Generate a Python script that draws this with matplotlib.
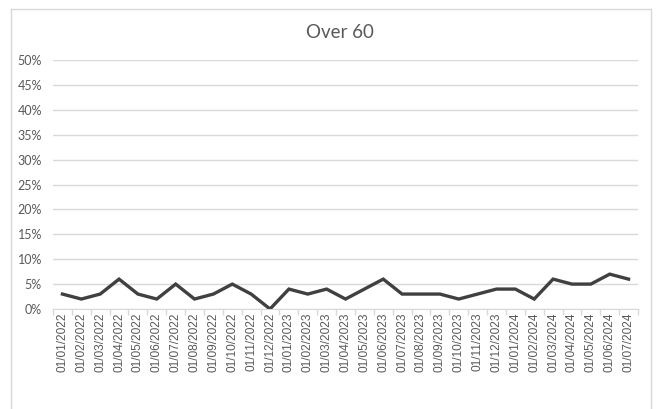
import matplotlib.pyplot as plt
from matplotlib.lines import Line2D
from matplotlib.ticker import PercentFormatter, FixedLocator, MultipleLocator

# DATA
dates = ['01/01/2022', '01/02/2022', '01/03/2022', '01/04/2022', '01/05/2022', '01/06/2022',
         '01/07/2022', '01/08/2022', '01/09/2022', '01/10/2022', '01/11/2022', '01/12/2022',
         '01/01/2023', '01/02/2023', '01/03/2023', '01/04/2023', '01/05/2023', '01/06/2023',
         '01/07/2023', '01/08/2023', '01/09/2023', '01/10/2023', '01/11/2023', '01/12/2023',
         '01/01/2024', '01/02/2024', '01/03/2024', '01/04/2024', '01/05/2024', '01/06/2024',
         '01/07/2024']
over_60 = [3, 2, 3, 6, 3, 2, 5, 2, 3, 5, 3, 0,
           4, 3, 4, 2, 4, 6, 3, 3, 3, 2, 3, 4,
           4, 2, 6, 5, 5, 7, 6]
title = 'Over 60'

GRID = '#d9d9d9'
TEXT = '#595959'

W, H = 658, 409
fig = plt.figure(figsize=(W / 100, H / 100), dpi=100)
ax = fig.add_axes([53 / W, 1 - 309 / H, (638 - 53) / W, (309 - 60) / H])

x = list(range(len(dates)))
ax.plot(x, over_60, color='#404040', lw=2.4, solid_joinstyle='miter', zorder=3)

ax.set_xlim(-0.5, len(dates) - 0.5)
ax.set_ylim(0, 50)
ax.yaxis.set_major_locator(MultipleLocator(5))
ax.yaxis.set_major_formatter(PercentFormatter(decimals=0))
ax.grid(axis='y', color=GRID, lw=1)
ax.set_axisbelow(True)

# category labels in the middle, tick marks on the boundaries
ax.set_xticks(x)
ax.set_xticklabels(dates, rotation=90, fontsize=8.6, color=TEXT, family='Liberation Sans')
ax.tick_params(axis='x', which='major', length=0, pad=2.5)
ax.xaxis.set_minor_locator(FixedLocator([i - 0.5 for i in range(len(dates) + 1)]))
ax.tick_params(axis='x', which='minor', length=4, color=GRID, width=1)
ax.tick_params(axis='y', length=0, pad=8, labelsize=9, labelcolor=TEXT)
for lab in ax.get_yticklabels():
    lab.set_family('Lato')

for s in ['left', 'right', 'top']:
    ax.spines[s].set_visible(False)
ax.spines['bottom'].set_color(GRID)

fig.text(340 / W, 1 - 32 / H, title, ha='center', va='center', fontsize=13.5,
         color=TEXT, family='Lato')

# chart frame
fc = '#d9d9d9'
fig.add_artist(Line2D([11 / W, 11 / W], [0, 1 - 9 / H], color=fc, lw=1, transform=fig.transFigure))
fig.add_artist(Line2D([11 / W, 651 / W], [1 - 9 / H, 1 - 9 / H], color=fc, lw=1, transform=fig.transFigure))
fig.add_artist(Line2D([651 / W, 651 / W], [0, 1 - 9 / H], color=fc, lw=1, transform=fig.transFigure))

fig.savefig('out.png', dpi=100)
